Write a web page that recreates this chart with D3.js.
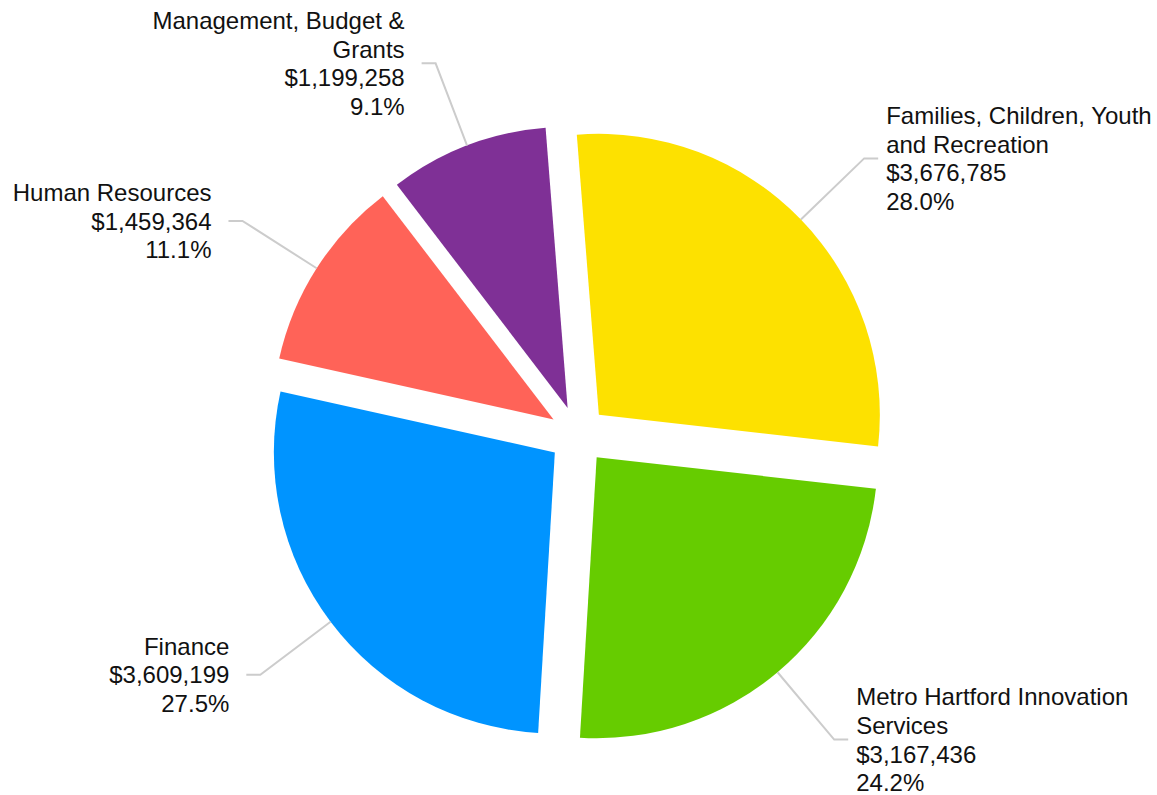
<!DOCTYPE html>
<html>
<head>
<meta charset="utf-8">
<script src="https://cdn.jsdelivr.net/npm/d3@7"></script>
<style>
  html, body { margin: 0; padding: 0; background: #fff; }
  svg { display: block; }
  text { font-family: "Liberation Sans", Arial, Helvetica, sans-serif; font-size: 24px; fill: #111; }
</style>
</head>
<body>
<svg id="chart" width="1157" height="795"></svg>
<script>
// Department budgets
const categories = [
  "Families, Children, Youth and Recreation",
  "Metro Hartford Innovation Services",
  "Finance",
  "Human Resources",
  "Management, Budget & Grants"
];
const values = [3676785, 3167436, 3609199, 1459364, 1199258];
const colors = ["#FDE100", "#66CC00", "#0094FF", "#FF6358", "#7F3096"];

const width = 1157, height = 795;
const cx = 578, cy = 435;
const radius = 281;
const explode = 29;        // outward shift of every slice
const connectorLen = 88;   // radial part of the label connector
const elbowLen = 14;       // horizontal part of the label connector
const lineHeight = 28.8;
const maxLabelWidth = 280;

const total = d3.sum(values);
const data = categories.map((name, i) => ({ name, value: values[i], color: colors[i] }));

const startAngle = -4.5 * Math.PI / 180;
const pie = d3.pie().sort(null).value(d => d.value)
  .startAngle(startAngle).endAngle(startAngle + 2 * Math.PI);
const arc = d3.arc().innerRadius(0).outerRadius(radius);

const svg = d3.select("#chart");
const g = svg.append("g").attr("transform", `translate(${cx},${cy})`);

const arcs = pie(data);
const dir = a => [Math.sin(a), -Math.cos(a)];

// slices, each pushed out along its bisector
g.selectAll("path.slice").data(arcs).join("path")
  .attr("class", "slice")
  .attr("d", arc)
  .attr("fill", d => d.data.color)
  .attr("transform", d => {
    const m = (d.startAngle + d.endAngle) / 2;
    const [ux, uy] = dir(m);
    return `translate(${ux * explode},${uy * explode})`;
  });

const money = v => "$" + d3.format(",")(v);
const pct = d3.format(".1%");

// connectors and labels
arcs.forEach(d => {
  const m = (d.startAngle + d.endAngle) / 2;
  const [ux, uy] = dir(m);
  const side = ux >= 0 ? 1 : -1;
  const r0 = radius + explode;
  const p0 = [ux * r0, uy * r0];
  const p1 = [ux * (r0 + connectorLen), uy * (r0 + connectorLen)];
  const p2 = [p1[0] + side * elbowLen, p1[1]];

  g.append("polyline")
    .attr("points", [p0, p1, p2].map(p => p.join(",")).join(" "))
    .attr("fill", "none")
    .attr("stroke", "#cccccc")
    .attr("stroke-width", 2);

  const gap = side > 0 ? 8 : 17;
  const text = g.append("text")
    .attr("text-anchor", side > 0 ? "start" : "end")
    .attr("x", p2[0] + side * gap);

  // wrap the department name to the label width
  const words = d.data.name.split(" ");
  const nameLines = [];
  let line = [];
  const probe = text.append("tspan");
  words.forEach(w => {
    const trial = line.concat(w).join(" ");
    probe.text(trial);
    if (line.length && probe.node().getComputedTextLength() > maxLabelWidth) {
      nameLines.push(line.join(" "));
      line = [w];
    } else {
      line.push(w);
    }
  });
  if (line.length) nameLines.push(line.join(" "));
  probe.remove();

  const lines = nameLines.concat([money(d.data.value), pct(d.data.value / total)]);
  const firstY = p1[1] - (lines.length - 1) * lineHeight / 2 + 8.6;
  lines.forEach((t, i) => {
    text.append("tspan")
      .attr("x", p2[0] + side * gap)
      .attr("y", firstY + i * lineHeight)
      .text(t);
  });
});
</script>
</body>
</html>
